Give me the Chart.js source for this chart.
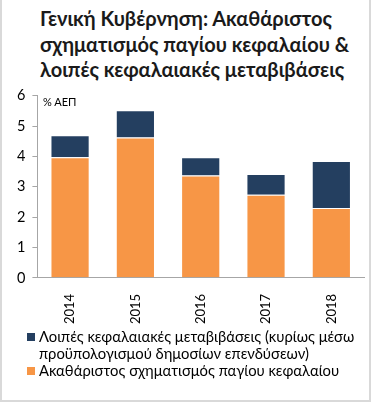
<!DOCTYPE html>
<html>
<head>
<meta charset="utf-8">
<script src="https://cdn.jsdelivr.net/npm/chart.js@4.4.1/dist/chart.umd.min.js"></script>
<style>
    html, body {
        margin: 0;
        padding: 0;
        background: #fff;
    }
    body {
        font-family: Lato, "Noto Sans", sans-serif;
    }
    .frame {
        position: relative;
        width: 371px;
        height: 402px;
        box-sizing: border-box;
        border-left: 2px solid #d9d9d9;
        border-right: 2px solid #d9d9d9;
        border-bottom: 2px solid #d9d9d9;
        overflow: hidden;
    }
    .title {
        position: absolute;
        left: 38px;
        top: 6px;
        font-size: 20px;
        line-height: 25.5px;
        font-weight: bold;
        color: #1a1a1a;
    }
    .unit {
        position: absolute;
        left: 41px;
        top: 95px;
        font-size: 11px;
        color: #000;
    }
    .chart-box {
        position: absolute;
        left: -2px;
        top: 80px;
        width: 371px;
        height: 252px;
    }
    .legend {
        position: absolute;
        left: 25px;
        top: 328px;
        font-size: 14.8px;
        line-height: 17px;
        color: #000;
    }
    .legend-item {
        display: flex;
        align-items: flex-start;
    }
    .legend-box {
        width: 8px;
        height: 8px;
        margin-top: 4.5px;
        margin-right: 4px;
        flex: none;
    }
</style>
</head>
<body>
<div class="frame">
    <div class="title">Γενική Κυβέρνηση: Ακαθάριστος<br>σχηματισμός παγίου κεφαλαίου &amp;<br>λοιπές κεφαλαιακές μεταβιβάσεις</div>
    <div class="chart-box"><canvas id="capitalChart"></canvas></div>
    <div class="unit">% ΑΕΠ</div>
    <div class="legend" id="capitalLegend"></div>
</div>

<script>
// Chart data (% of GDP)
const years = ['2014', '2015', '2016', '2017', '2018'];
const grossFixedCapital = [3.97, 4.62, 3.37, 2.74, 2.30];
const otherCapitalTransfers = [0.73, 0.90, 0.60, 0.68, 1.55];
const yTicks = [0, 1, 2, 3, 4, 5, 6];

const seriesLabels = [
    'Ακαθάριστος σχηματισμός παγίου κεφαλαίου',
    ['Λοιπές κεφαλαιακές μεταβιβάσεις (κυρίως μέσω', 'προϋπολογισμού δημοσίων επενδύσεων)']
];

const FONT = 'Lato, "Noto Sans", sans-serif';
const AXIS_GREY = '#a6a6a6';

let capitalChart = null;

document.addEventListener('DOMContentLoaded', () => {
    initChart();
    buildLegend();
});

/**
 * Stacked bar chart
 */
function initChart() {
    const ctx = document.getElementById('capitalChart');
    capitalChart = new Chart(ctx, {
        type: 'bar',
        data: {
            labels: years,
            datasets: [{
                label: seriesLabels[0],
                data: grossFixedCapital,
                backgroundColor: '#f79646',
                borderColor: 'rgba(255, 255, 255, 0.7)',
                borderWidth: 1,
                borderSkipped: 'bottom',
            }, {
                label: seriesLabels[1],
                data: otherCapitalTransfers,
                backgroundColor: '#243f60',
                borderColor: 'rgba(255, 255, 255, 0.7)',
                borderWidth: 1,
                borderSkipped: 'bottom',
            }]
        },
        options: {
            responsive: true,
            maintainAspectRatio: false,
            animation: false,
            layout: {
                padding: { left: 10, right: 7, top: 8, bottom: 0 }
            },
            datasets: {
                bar: {
                    barPercentage: 0.6,
                    categoryPercentage: 1,
                }
            },
            plugins: {
                legend: { display: false },
                tooltip: { enabled: false },
            },
            scales: {
                x: {
                    stacked: true,
                    grid: { display: false },
                    border: { color: AXIS_GREY, width: 1 },
                    ticks: {
                        color: '#000',
                        font: { family: FONT, size: 13 },
                        minRotation: 90,
                        maxRotation: 90,
                        padding: 8,
                    }
                },
                y: {
                    stacked: true,
                    min: 0,
                    max: 6,
                    afterBuildTicks: (axis) => {
                        axis.ticks = yTicks.map(v => ({ value: v }));
                    },
                    grid: {
                        drawOnChartArea: false,
                        drawTicks: true,
                        tickLength: 5,
                        color: AXIS_GREY,
                    },
                    border: { color: AXIS_GREY, width: 1 },
                    ticks: {
                        color: '#000',
                        font: { family: FONT, size: 14.5 },
                        padding: 7,
                    }
                }
            }
        }
    });
}

/**
 * Legend drawn from the chart's datasets, top item first
 */
function buildLegend() {
    const legend = document.getElementById('capitalLegend');
    const items = capitalChart.data.datasets.slice().reverse();
    items.forEach(ds => {
        const row = document.createElement('div');
        row.className = 'legend-item';
        const box = document.createElement('span');
        box.className = 'legend-box';
        box.style.background = ds.backgroundColor;
        const text = document.createElement('span');
        text.innerHTML = [].concat(ds.label).join('<br>');
        row.appendChild(box);
        row.appendChild(text);
        legend.appendChild(row);
    });
}
</script>
</body>
</html>
